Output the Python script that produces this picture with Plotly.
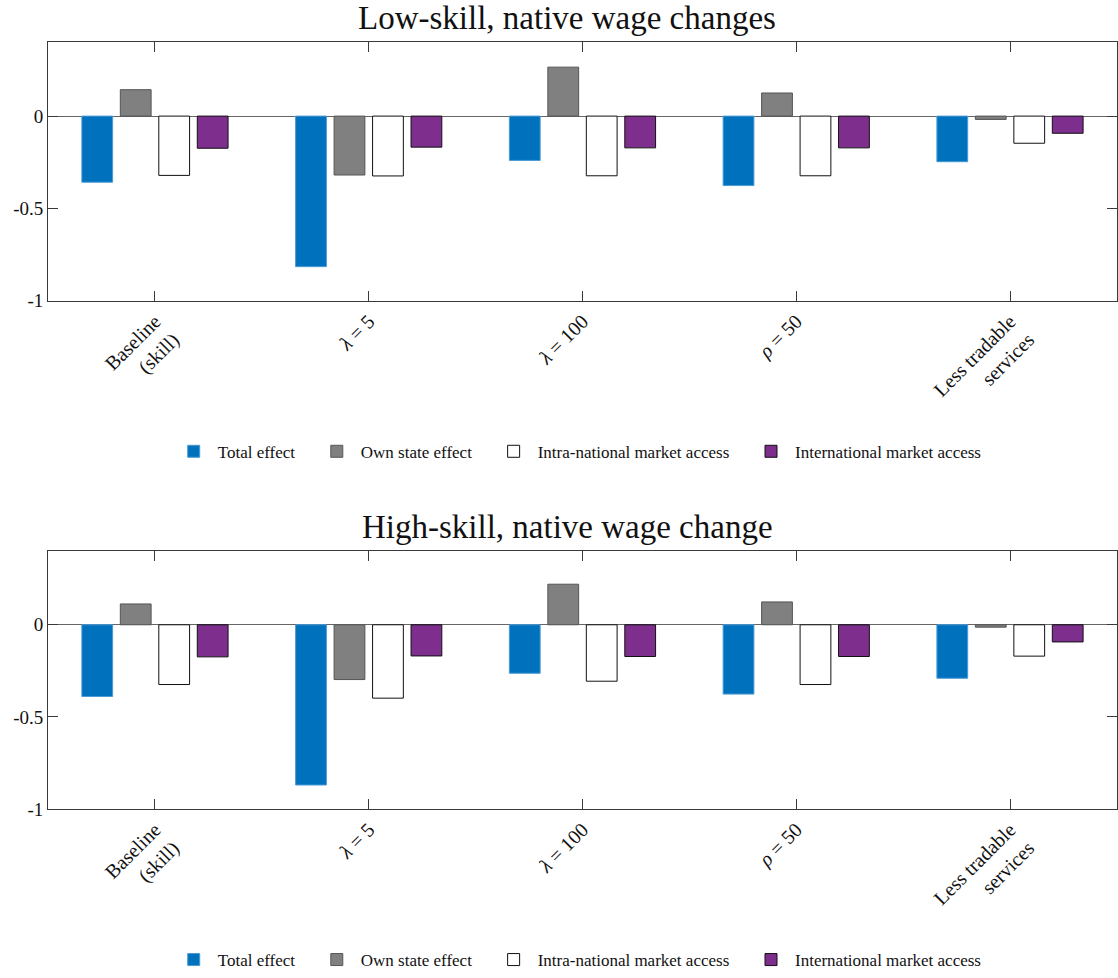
import plotly.graph_objects as go

# Scenario labels along the x axis
scenarios = ["Baseline<br>(skill)", "<i>λ</i> = 5", "<i>λ</i> = 100", "<i>ρ</i> = 50", "Less tradable<br>services"]
positions = [1, 2, 3, 4, 5]
series_names = ["Total effect", "Own state effect", "Intra-national market access", "International market access"]

# Low-skill native wage changes (%)
low_total = [-0.358, -0.815, -0.240, -0.376, -0.247]
low_own = [0.143, -0.319, 0.265, 0.125, -0.018]
low_intra = [-0.321, -0.324, -0.323, -0.323, -0.147]
low_intl = [-0.174, -0.168, -0.172, -0.172, -0.093]

# High-skill native wage changes (%)
high_total = [-0.389, -0.869, -0.263, -0.376, -0.290]
high_own = [0.113, -0.297, 0.220, 0.124, -0.013]
high_intra = [-0.324, -0.398, -0.306, -0.324, -0.170]
high_intl = [-0.174, -0.169, -0.172, -0.172, -0.093]

tick_vals_y = [-1, -0.5, 0]
tick_text_y = ["-1", "-0.5", "0"]

FONT = "Liberation Serif"
fills = ["#0072BD", "#808080", "#FFFFFF", "#7E2F8E"]
edges = ["#4a9ad6", "#555555", "#111111", "#111111"]
PAD = "\u00a0\u00a0\u00a0"  # extra spacing after each legend entry

fig = go.Figure()

panels = [
    ([low_total, low_own, low_intra, low_intl], "x", "y", "legend"),
    ([high_total, high_own, high_intra, high_intl], "x2", "y2", "legend2"),
]
for series, xa, ya, lg in panels:
    for name, vals, fc, ec in zip(series_names, series, fills, edges):
        fig.add_trace(go.Bar(
            x=positions, y=vals, name=name + PAD,
            marker=dict(color=fc, line=dict(color=ec, width=1)),
            xaxis=xa, yaxis=ya, legend=lg, offsetgroup=name,
            hoverinfo="skip",
        ))

axis_col = "#3a3a3a"
xdom = [0.043, 0.999]
common_x = dict(
    range=[0.5, 5.5], tickvals=positions, ticktext=scenarios, tickangle=-45,
    ticks="inside", ticklen=10, tickcolor=axis_col, showline=True, linecolor=axis_col,
    linewidth=1, mirror="ticks", showgrid=False, zeroline=False,
    tickfont=dict(family=FONT, size=20, color="#111"), automargin=False, domain=xdom,
)
common_y = dict(
    range=[-1, 0.4], tickvals=tick_vals_y, ticktext=tick_text_y,
    ticks="inside", ticklen=10, tickcolor=axis_col, showline=True, linecolor=axis_col,
    linewidth=1, mirror="ticks", showgrid=False, zeroline=True, zerolinecolor="#666666",
    zerolinewidth=1, tickfont=dict(family=FONT, size=19, color="#111"), automargin=False,
)

H = 978.0
def frac(px):
    return 1 - px / H

legend_style = dict(orientation="h", x=0.523, xanchor="center", yanchor="middle",
                    font=dict(family=FONT, size=17, color="#111"), bgcolor="rgba(0,0,0,0)",
                    itemwidth=38, traceorder="normal")

fig.update_layout(
    width=1118, height=978,
    margin=dict(l=0, r=0, t=0, b=0),
    paper_bgcolor="white", plot_bgcolor="white",
    barmode="group", bargap=0.28, bargroupgap=0.2,
    xaxis=dict(common_x, anchor="y"),
    yaxis=dict(common_y, anchor="x", domain=[frac(303), frac(42.5)]),
    xaxis2=dict(common_x, anchor="y2"),
    yaxis2=dict(common_y, anchor="x2", domain=[frac(815), frac(555)]),
    legend=dict(legend_style, y=frac(455)),
    legend2=dict(legend_style, y=frac(967)),
    annotations=[
        dict(text="Low-skill, native wage changes", x=0.5075, y=frac(18), xref="paper", yref="paper",
             xanchor="center", yanchor="middle", showarrow=False,
             font=dict(family=FONT, size=33, color="#111")),
        dict(text="High-skill, native wage change", x=0.5075, y=frac(531), xref="paper", yref="paper",
             xanchor="center", yanchor="middle", showarrow=False,
             font=dict(family=FONT, size=33, color="#111")),
    ],
    showlegend=True,
)

fig.write_html("out.html")
